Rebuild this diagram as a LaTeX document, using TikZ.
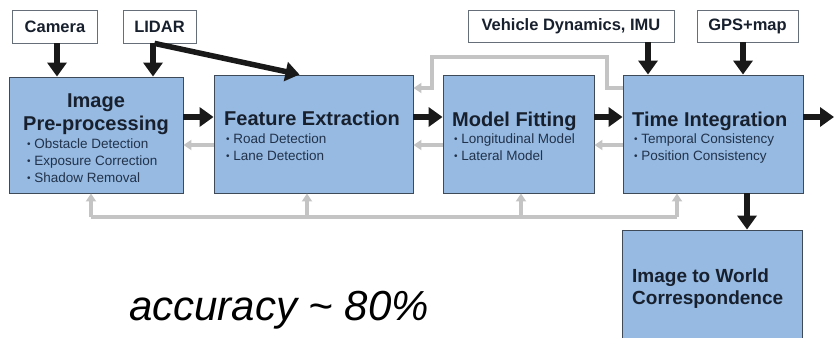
\documentclass[tikz,border=0pt]{standalone}
\usepackage{fontspec}
\setmainfont{Liberation Sans}
\usetikzlibrary{arrows.meta}
\definecolor{boxfill}{HTML}{96BAE2}
\definecolor{boxline}{HTML}{3E4A58}
\definecolor{txt}{HTML}{18202E}
\definecolor{btxt}{HTML}{22324A}
\definecolor{gryc}{HTML}{C4C4C4}
\tikzset{
  hdr/.style={draw=boxline!80, line width=0.8pt, fill=white, inner sep=0pt, font=\fontsize{16.5}{18}\selectfont\bfseries, text=txt},
  blk/.style={draw=boxline, line width=0.9pt, fill=boxfill, inner sep=0pt},
  ttl/.style={inner sep=0pt, anchor=base west, font=\fontsize{20}{22}\selectfont\bfseries, text=txt},
  ttlc/.style={inner sep=0pt, anchor=base, font=\fontsize{20}{22}\selectfont\bfseries, text=txt},
  bul/.style={inner sep=0pt, anchor=base west, font=\fontsize{13.5}{16}\selectfont, text=btxt},
  iwt/.style={inner sep=0pt, anchor=base west, font=\fontsize{19}{22}\selectfont\bfseries, text=txt},
  barr/.style={line width=5.5pt, black!90, -{Triangle[length=14pt,width=19pt]}},
  garr/.style={line width=3.5pt, gryc, -{Triangle[length=8pt,width=10pt]}},
  gline/.style={line width=3.5pt, gryc},
}
\newcommand{\bu}{{\fontsize{10}{10}\selectfont\raisebox{0.5pt}{•}}\ }
\begin{document}
\begin{tikzpicture}[x=1pt,y=-1pt]
\useasboundingbox (0,0) rectangle (834,337);
\begin{scope}
\clip (0,0) rectangle (834,337);
% input boxes
\node[hdr, minimum width=85pt, minimum height=33pt] (cam) at (55,26.5) {Camera};
\node[hdr, minimum width=73pt, minimum height=33pt] (lidar) at (159.5,26.5) {LIDAR};
\node[hdr, minimum width=206pt, minimum height=32pt] (vd) at (571,26) {Vehicle Dynamics, IMU};
\node[hdr, minimum width=101pt, minimum height=32pt] (gps) at (747.5,26) {GPS+map};
% main boxes
\node[blk, minimum width=174pt, minimum height=116pt] (ip) at (96,135) {};
\node[blk, minimum width=199pt, minimum height=118pt] (fe) at (313.5,134) {};
\node[blk, minimum width=151pt, minimum height=118pt] (mf) at (518.5,134) {};
\node[blk, minimum width=180pt, minimum height=118pt] (ti) at (713,134) {};
\node[blk, minimum width=180pt, minimum height=125pt] (iw) at (712,292.5) {};
\end{scope}
% texts
\node[ttlc] (ipt1) at (96,107) {Image};
\node[ttlc] (ipt2) at (96,130) {Pre-processing};
\node[bul] (ipb1) at (27,148) {\bu Obstacle Detection};
\node[bul] (ipb2) at (27,165) {\bu Exposure Correction};
\node[bul] (ipb3) at (27,182) {\bu Shadow Removal};
\node[ttl] (fet) at (224,125) {Feature Extraction};
\node[bul] (feb1) at (226,143) {\bu Road Detection};
\node[bul] (feb2) at (226,160) {\bu Lane Detection};
\node[ttl] (mft) at (452,126) {Model Fitting};
\node[bul] (mfb1) at (454,143) {\bu Longitudinal Model};
\node[bul] (mfb2) at (454,160) {\bu Lateral Model};
\node[ttl] (tit) at (632,126) {Time Integration};
\node[bul] (tib1) at (634,143) {\bu Temporal Consistency};
\node[bul] (tib2) at (634,160) {\bu Position Consistency};
\node[iwt] (iwt1) at (632,282) {Image to World};
\node[iwt] (iwt2) at (632,304) {Correspondence};
\node[inner sep=0pt, anchor=base, font=\fontsize{42}{46}\selectfont\itshape, text=black] (acc) at (279,320) {accuracy \char`\~{} 80\%};
% coordinates
\coordinate (fwd) at (0,117);
\coordinate (bk) at (0,145);
\coordinate (out) at (834,117);
\coordinate (vdx) at (648,0);
\coordinate (gpsx) at (743,0);
\coordinate (camx) at (57,0);
\coordinate (lidx) at (153,0);
\coordinate (iwx) at (747,0);
\coordinate (bus) at (0,217);
\coordinate (b1) at (91,0);
\coordinate (b2) at (307,0);
\coordinate (b3) at (521,0);
\coordinate (b4) at (677,0);
\coordinate (lpy) at (0,57);
\coordinate (lpr) at (607,0);
\coordinate (lpl) at (432,0);
\coordinate (lpt) at (0,88);
% black arrows
\draw[barr] (cam.south -| camx) -- (ip.north -| camx);
\draw[barr] (lidar.south -| lidx) -- (ip.north -| lidx);
\draw[barr] ([xshift=-5pt]lidar.south) -- ([xshift=-14pt]fe.north);
\draw[barr] (vd.south -| vdx) -- (ti.north -| vdx);
\draw[barr] (gps.south -| gpsx) -- (ti.north -| gpsx);
\draw[barr] (ip.east |- fwd) -- (fe.west |- fwd);
\draw[barr] (fe.east |- fwd) -- (mf.west |- fwd);
\draw[barr] (mf.east |- fwd) -- (ti.west |- fwd);
\draw[barr] (ti.east |- fwd) -- (out);
\draw[barr] (ti.south -| iwx) -- (iw.north -| iwx);
% gray arrows
\draw[garr] (fe.west |- bk) -- (ip.east |- bk);
\draw[garr] (mf.west |- bk) -- (fe.east |- bk);
\draw[garr] (ti.west |- bk) -- (mf.east |- bk);
\draw[garr] (ti.west |- lpt) -- (lpr |- lpt) -- (lpr |- lpy) -- (lpl |- lpy) -- (lpl |- lpt) -- (fe.east |- lpt);
\draw[gline] (b1 |- bus) -- (b4 |- bus);
\draw[garr] (b1 |- bus) -- (ip.south -| b1);
\draw[garr] (b2 |- bus) -- (fe.south -| b2);
\draw[garr] (b3 |- bus) -- (mf.south -| b3);
\draw[garr] (b4 |- bus) -- (ti.south -| b4);
\end{tikzpicture}
\end{document}
